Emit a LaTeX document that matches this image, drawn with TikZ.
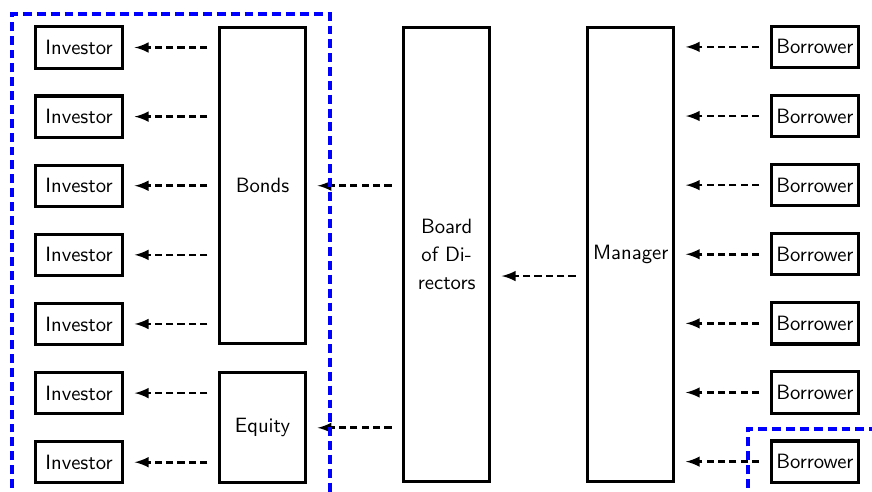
\documentclass[tikz,border=0pt]{standalone}
\usepackage{tikz}
\usetikzlibrary{positioning}
\tikzset{
	party/.style={draw, rectangle, line width=1.5pt, inner sep=2pt, minimum width=1.48cm, minimum height=0.70cm, font=\sffamily},
	tall/.style={draw, rectangle, line width=1.5pt, inner sep=2pt, minimum width=1.46cm, font=\sffamily, align=center},
	flow/.style={line width=1.3pt, dash pattern=on 3.5pt off 2pt, ->, >=latex, shorten >=0.18cm, shorten <=0.18cm},
	% dashed blue frames
	group/.style={blue, line width=1.6pt, dash pattern=on 4.3pt off 2.4pt},
}

\begin{document}
\begin{tikzpicture}
		\useasboundingbox (0,0) rectangle (14.824,-8.364);
		\clip (0,0) rectangle (14.824,-8.364);
		
		\node (inv1) [party] at (1.343,-0.8075) {Investor};
		\node (inv2) [party, below of=inv1, yshift=-0.175cm] {Investor};
		\node (inv3) [party, below of=inv2, yshift=-0.175cm] {Investor};
		\node (inv4) [party, below of=inv3, yshift=-0.175cm] {Investor};
		\node (inv5) [party, below of=inv4, yshift=-0.175cm] {Investor};
		\node (inv6) [party, below of=inv5, yshift=-0.175cm] {Investor};
		\node (inv7) [party, below of=inv6, yshift=-0.175cm] {Investor};
		
		\node (bonds) [tall, minimum height=5.37cm, right of=inv3, xshift=2.12cm] {Bonds};
		\node (equity) [tall, minimum height=1.87cm, right of=inv6, xshift=2.12cm, yshift=-0.59cm] {Equity};
		\node (board) [tall, minimum height=7.72cm, right of=bonds, xshift=2.13cm, yshift=-1.165cm] {Board\\[1.5pt]of Di-\\[1.5pt]rectors};
		\node (manager) [tall, minimum height=7.72cm, right of=board, xshift=2.13cm] {Manager};
		
		\node (bor4) [party, right of=manager, xshift=2.13cm] {Borrower};
		\node (bor3) [party, above of=bor4, yshift=0.175cm] {Borrower};
		\node (bor2) [party, above of=bor3, yshift=0.175cm] {Borrower};
		\node (bor1) [party, above of=bor2, yshift=0.175cm] {Borrower};
		\node (bor5) [party, below of=bor4, yshift=-0.175cm] {Borrower};
		\node (bor6) [party, below of=bor5, yshift=-0.175cm] {Borrower};
		\node (bor7) [party, below of=bor6, yshift=-0.175cm] {Borrower};
		
		\begin{scope}[flow]
			\draw (bonds.west |- inv1) -- (inv1);
			\draw (bonds.west |- inv2) -- (inv2);
			\draw (bonds.west |- inv3) -- (inv3);
			\draw (bonds.west |- inv4) -- (inv4);
			\draw (bonds.west |- inv5) -- (inv5);
			\draw (equity.west |- inv6) -- (inv6);
			\draw (equity.west |- inv7) -- (inv7);
			
			\draw (board.west |- bonds) -- (bonds);
			\draw (board.west |- equity) -- (equity);
			\draw ([yshift=-0.37cm]manager.west) -- ([yshift=-0.37cm]board.east);
			
			\draw (bor1) -- (manager.east |- bor1);
			\draw (bor2) -- (manager.east |- bor2);
			\draw (bor3) -- (manager.east |- bor3);
			\draw (bor4) -- (manager.east |- bor4);
			\draw (bor5) -- (manager.east |- bor5);
			\draw (bor6) -- (manager.east |- bor6);
			\draw (bor7) -- (manager.east |- bor7);
		\end{scope}
		
		\draw [group] (0.204,-9) -- (0.204,-0.238) -- (5.61,-0.238) -- (5.61,-9);
		\draw [group] (12.716,-9) -- (12.716,-7.293) -- (15.5,-7.293);
	\end{tikzpicture}
\end{document}
